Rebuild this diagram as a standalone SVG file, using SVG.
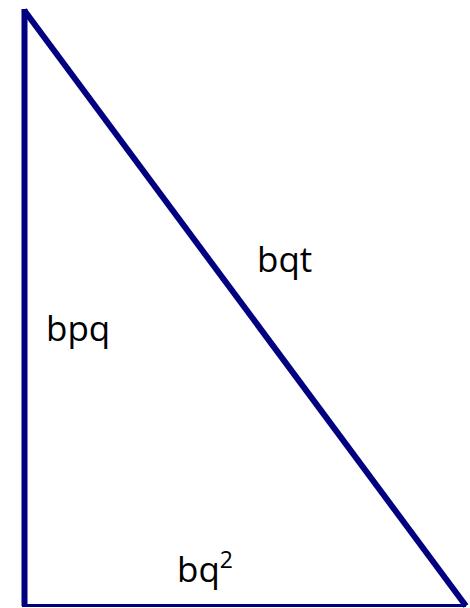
<svg xmlns="http://www.w3.org/2000/svg" width="470" height="608" viewBox="0 0 470 608">
<style>
.edge{fill:none;stroke:#000080;stroke-width:6;stroke-linecap:butt}
.lbl{font-family:"Open Sans","Noto Sans",sans-serif;font-size:35px;fill:#000}
</style>
<rect width="470" height="608" fill="#fff"/>
<g id="connectors">
<line class="edge" x1="24.5" y1="9" x2="24.5" y2="606"/>
<line class="edge" x1="22" y1="605.5" x2="466" y2="605.5" style="stroke-width:3"/>
<line class="edge" x1="24" y1="10" x2="466" y2="606"/>
</g>
<g id="label-bqt"><text class="lbl" x="257" y="272">bqt</text></g>
<g id="label-bpq"><text class="lbl" x="46" y="341">bpq</text></g>
<g id="label-bq2"><text class="lbl" x="177" y="582">bq<tspan font-size="23" dy="-14">2</tspan></text></g>
</svg>
